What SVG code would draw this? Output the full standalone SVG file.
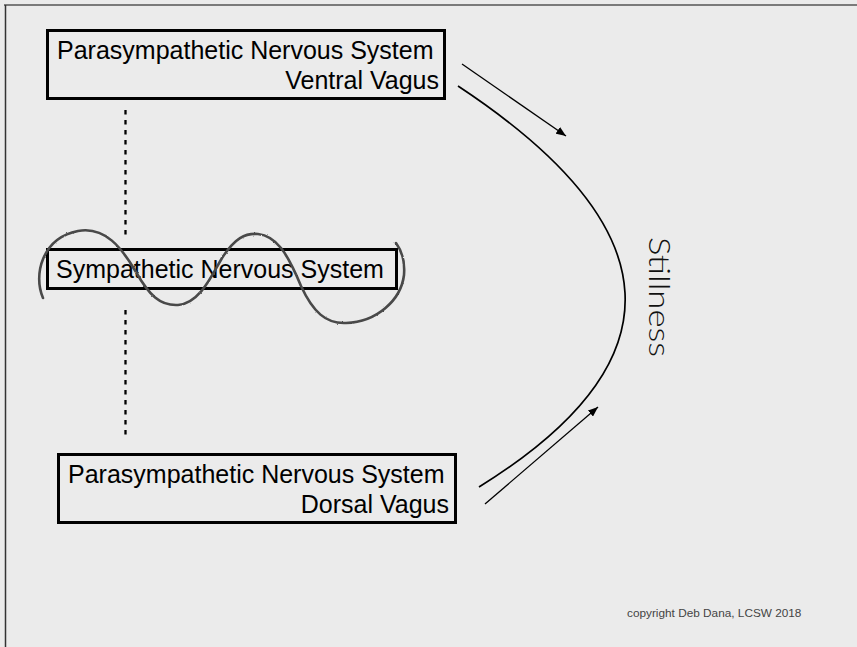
<svg xmlns="http://www.w3.org/2000/svg" width="857" height="647" viewBox="0 0 857 647">
  <style>
    .box { fill: none; stroke: #000; stroke-width: 3; }
    .label { font-family: "Liberation Sans", Arial, Helvetica, sans-serif; font-size: 25px; fill: #000; }
    .conn { fill: none; stroke: #000; }
    .dots { stroke: #000; stroke-width: 2.3; stroke-dasharray: 4.5 5.5; }
  </style>
  <defs>
    <marker id="head" viewBox="0 0 10 8" refX="10" refY="4" markerWidth="10" markerHeight="8" markerUnits="userSpaceOnUse" orient="auto">
      <path d="M0,0 L10,4 L0,8 Z" fill="#000"/>
    </marker>
    <filter id="pencil" x="-5%" y="-20%" width="110%" height="140%">
      <feTurbulence type="fractalNoise" baseFrequency="0.9" numOctaves="2" seed="3" result="n"/>
      <feDisplacementMap in="SourceGraphic" in2="n" scale="1.8" xChannelSelector="R" yChannelSelector="G"/>
    </filter>
  </defs>

  <!-- slide background and frame -->
  <rect x="0" y="0" width="857" height="647" fill="#ebebeb"/>
  <line x1="4" y1="5" x2="857" y2="5" stroke="#7a7a7a" stroke-width="2"/>
  <line x1="5.5" y1="5" x2="5.5" y2="647" stroke="#333" stroke-width="1.5"/>

  <!-- connectors -->
  <g id="connectors">
    <line class="dots" x1="125.5" y1="110" x2="125.5" y2="240"/>
    <line class="dots" x1="125.5" y1="310" x2="125.5" y2="440"/>
    <path class="conn" stroke-width="1.7" d="M458,86 Q781.5,299.5 479,487"/>
    <line class="conn" stroke-width="1.3" x1="462" y1="64" x2="566" y2="136" marker-end="url(#head)"/>
    <line class="conn" stroke-width="1.3" x1="485" y1="504" x2="598" y2="407" marker-end="url(#head)"/>
  </g>

  <!-- ventral vagal state -->
  <g id="ventral">
    <rect class="box" x="47.5" y="30.5" width="397" height="68"/>
    <text class="label" x="57" y="59">Parasympathetic Nervous System</text>
    <text class="label" x="439" y="89" text-anchor="end">Ventral Vagus</text>
  </g>

  <!-- sympathetic state -->
  <g id="sympathetic">
    <rect class="box" x="47.5" y="249.5" width="349" height="39"/>
    <text class="label" x="56" y="278">Sympathetic Nervous System</text>
    <path id="wave" fill="none" stroke="#484848" stroke-width="2.6" stroke-linecap="round" filter="url(#pencil)"
          d="M43,298 C33,275 42,238 78,231 C105,226 122,248 136,272 C149,295 160,306 178,305 C200,303 212,275 222,258 C235,238 245,233 258,234 C276,236 287,252 301,286 C313,312 326,324 346,323 C377,322 401,300 404,275 C405,262 402,251 396,243"/>
  </g>

  <!-- dorsal vagal state -->
  <g id="dorsal">
    <rect class="box" x="58.5" y="454.5" width="397" height="68"/>
    <text class="label" x="68" y="483">Parasympathetic Nervous System</text>
    <text class="label" x="449" y="513" text-anchor="end">Dorsal Vagus</text>
  </g>

  <!-- vertical caption -->
  <g id="stillness">
    <text transform="translate(649,237) rotate(90)" font-family="Lato, 'Open Sans', 'Liberation Sans', sans-serif" font-weight="300" font-size="30" fill="#111" textLength="120" lengthAdjust="spacingAndGlyphs">Stillness</text>
  </g>

  <text x="627" y="617" font-family="'Liberation Sans', Arial, sans-serif" font-size="11.8" fill="#444">copyright Deb Dana, LCSW 2018</text>
</svg>
